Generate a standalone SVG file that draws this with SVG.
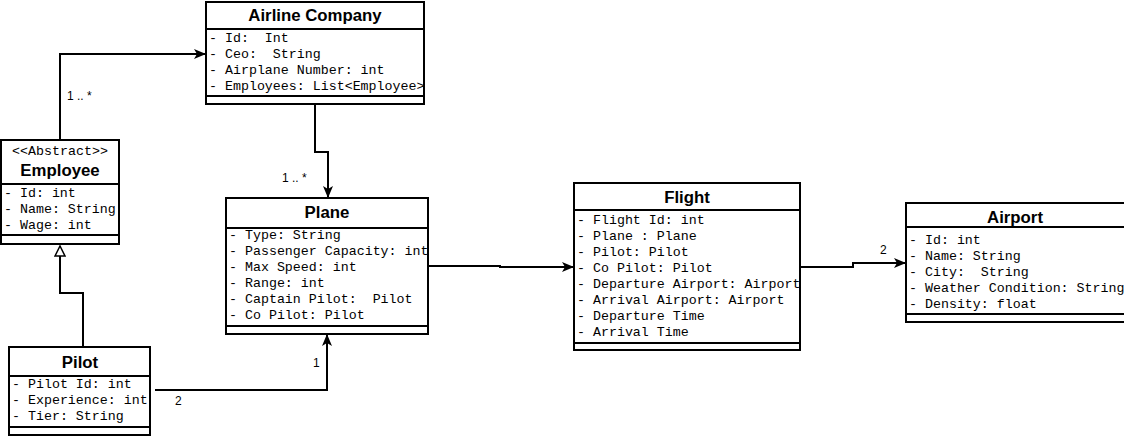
<svg xmlns="http://www.w3.org/2000/svg" width="1124" height="436" viewBox="0 0 1124 436">
<style>
.box{fill:#fff;stroke:#000;stroke-width:2}
.ln{stroke:#000;stroke-width:2}
.t{font-family:"Liberation Sans",Arial,sans-serif;font-weight:bold;font-size:16.8px;text-anchor:middle;fill:#000}
.a{font-family:"Liberation Mono","Courier New",monospace;font-size:13.3px;fill:#000}
.st{font-family:"Liberation Mono","Courier New",monospace;font-size:13.3px;fill:#000;text-anchor:middle}
.lbl{font-family:"Liberation Sans",Arial,sans-serif;font-size:12px;fill:#000}
.c{fill:none;stroke:#000;stroke-width:2}
</style>
<defs>
<marker id="arr" viewBox="0 0 12 10" refX="11" refY="5" markerWidth="12" markerHeight="10" markerUnits="userSpaceOnUse" orient="auto">
<path d="M0,0 L12,5 L0,10 L3,5 Z" fill="#000"/>
</marker>
<marker id="tri" viewBox="0 0 12 12" refX="11" refY="6" markerWidth="12" markerHeight="12" markerUnits="userSpaceOnUse" orient="auto">
<path d="M1,1 L11,6 L1,11 Z" fill="#fff" stroke="#000" stroke-width="1.5"/>
</marker>
</defs>
<g id="connectors">
<path class="c" d="M60,140 L60,54 L205,54" marker-end="url(#arr)"/>
<text class="lbl" x="67" y="100">1 .. *</text>
<path class="c" d="M315,104 L315,152 L328,152 L328,197" marker-end="url(#arr)"/>
<text class="lbl" x="282" y="182">1 .. *</text>
<path class="c" d="M83,346 L83,293 L60,293 L60,246" marker-end="url(#tri)"/>
<path class="c" d="M155,390 L327,390 L327,335" marker-end="url(#arr)"/>
<text class="lbl" x="313" y="367">1</text>
<text class="lbl" x="175" y="405">2</text>
<path class="c" d="M428,266 L500,266 L500,267 L573,267" marker-end="url(#arr)"/>
<path class="c" d="M800,267 L853,267 L853,263 L905,263" marker-end="url(#arr)"/>
<text class="lbl" x="880" y="254">2</text>
</g>
<g id="airline-company">
<rect class="box" x="206" y="2" width="218" height="102"/>
<line class="ln" x1="206" y1="29" x2="424" y2="29"/>
<line class="ln" x1="206" y1="96" x2="424" y2="96"/>
<text class="t" x="315" y="21">Airline Company</text>
<text class="a" x="209" y="42" xml:space="preserve">- Id:  Int</text>
<text class="a" x="209" y="58" xml:space="preserve">- Ceo:  String</text>
<text class="a" x="209" y="74">- Airplane Number: int</text>
<text class="a" x="209" y="90">- Employees: List&lt;Employee&gt;</text>
</g>
<g id="employee">
<rect class="box" x="1" y="140" width="118" height="104"/>
<line class="ln" x1="1" y1="184" x2="119" y2="184"/>
<line class="ln" x1="1" y1="235" x2="119" y2="235"/>
<text class="st" x="60" y="155">&lt;&lt;Abstract&gt;&gt;</text>
<text class="t" x="60" y="176">Employee</text>
<text class="a" x="4" y="197">- Id: int</text>
<text class="a" x="4" y="213">- Name: String</text>
<text class="a" x="4" y="229">- Wage: int</text>
</g>
<g id="plane">
<rect class="box" x="226" y="198" width="202" height="136"/>
<line class="ln" x1="226" y1="228" x2="428" y2="228"/>
<line class="ln" x1="226" y1="326" x2="428" y2="326"/>
<text class="t" x="327" y="218">Plane</text>
<text class="a" x="229" y="239">- Type: String</text>
<text class="a" x="229" y="255">- Passenger Capacity: int</text>
<text class="a" x="229" y="271">- Max Speed: int</text>
<text class="a" x="229" y="287">- Range: int</text>
<text class="a" x="229" y="303" xml:space="preserve">- Captain Pilot:  Pilot</text>
<text class="a" x="229" y="319">- Co Pilot: Pilot</text>
</g>
<g id="pilot">
<rect class="box" x="9" y="347" width="141" height="88"/>
<line class="ln" x1="9" y1="376" x2="150" y2="376"/>
<line class="ln" x1="9" y1="427" x2="150" y2="427"/>
<text class="t" x="80" y="368">Pilot</text>
<text class="a" x="12" y="388">- Pilot Id: int</text>
<text class="a" x="12" y="404">- Experience: int</text>
<text class="a" x="12" y="420">- Tier: String</text>
</g>
<g id="flight">
<rect class="box" x="574" y="183" width="226" height="167"/>
<line class="ln" x1="574" y1="210" x2="800" y2="210"/>
<line class="ln" x1="574" y1="343" x2="800" y2="343"/>
<text class="t" x="687" y="203">Flight</text>
<text class="a" x="577" y="224">- Flight Id: int</text>
<text class="a" x="577" y="240">- Plane : Plane</text>
<text class="a" x="577" y="256">- Pilot: Pilot</text>
<text class="a" x="577" y="272">- Co Pilot: Pilot</text>
<text class="a" x="577" y="288">- Departure Airport: Airport</text>
<text class="a" x="577" y="304">- Arrival Airport: Airport</text>
<text class="a" x="577" y="320">- Departure Time</text>
<text class="a" x="577" y="336">- Arrival Time</text>
</g>
<g id="airport">
<rect class="box" x="906" y="203" width="230" height="119"/>
<line class="ln" x1="906" y1="227" x2="1136" y2="227"/>
<line class="ln" x1="906" y1="314" x2="1136" y2="314"/>
<text class="t" x="1015" y="223">Airport</text>
<text class="a" x="909" y="244">- Id: int</text>
<text class="a" x="909" y="260">- Name: String</text>
<text class="a" x="909" y="276" xml:space="preserve">- City:  String</text>
<text class="a" x="909" y="292">- Weather Condition: String</text>
<text class="a" x="909" y="308">- Density: float</text>
</g>
</svg>
